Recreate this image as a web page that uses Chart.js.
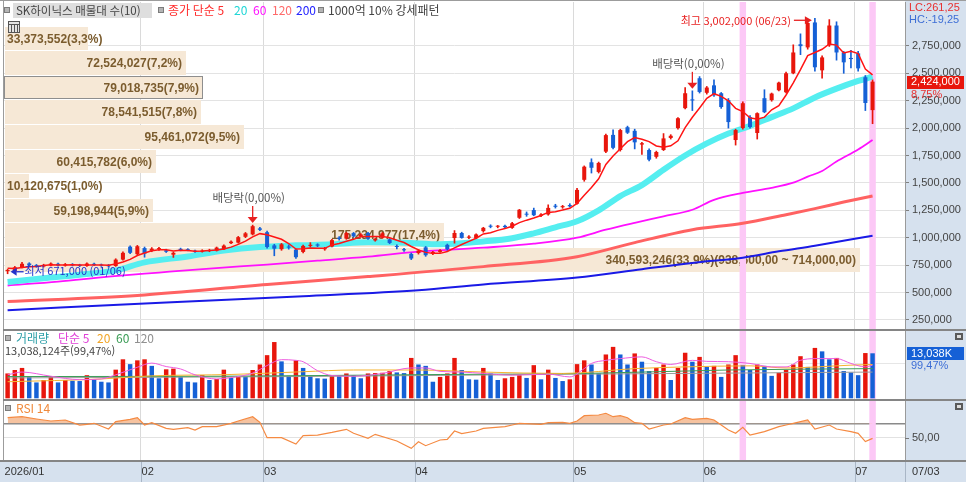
<!DOCTYPE html>
<html lang="ko">
<head>
<meta charset="utf-8">
<title>SK하이닉스 일봉</title>
<script src="https://cdn.jsdelivr.net/npm/chart.js@4.4.1/dist/chart.umd.min.js"></script>
<style>
  html, body { margin: 0; padding: 0; background: #fff; overflow: hidden; }
  #chart { display: block; }
</style>
</head>
<body>
<canvas id="chart" width="966" height="482"></canvas>
<script>
// ---- values (prices in 천원, volume in 천주) ----
const dates = [
  '01/06','01/07','01/08','01/09','01/12','01/13','01/14','01/15','01/16','01/19','01/20','01/21','01/22','01/23','01/26','01/27','01/28','01/29','01/30',
  '02/02','02/03','02/04','02/05','02/06','02/09','02/10','02/11','02/12','02/13','02/19','02/20','02/23','02/24','02/25','02/26','02/27',
  '03/03','03/04','03/05','03/06','03/09','03/10','03/11','03/12','03/13','03/16','03/17','03/18','03/19','03/20','03/23','03/24','03/25','03/26','03/27','03/30','03/31',
  '04/01','04/02','04/03','04/06','04/07','04/08','04/09','04/10','04/13','04/14','04/15','04/16','04/17','04/20','04/21','04/22','04/23','04/24','04/27','04/28','04/29','04/30',
  '05/04','05/06','05/07','05/08','05/11','05/12','05/13','05/14','05/15','05/18','05/19','05/20','05/21','05/22','05/26','05/27','05/28','05/29',
  '06/01','06/02','06/04','06/05','06/08','06/09','06/10','06/11','06/12','06/15','06/16','06/17','06/18','06/19','06/22','06/23','06/24','06/25','06/26','06/29','06/30',
  '07/01','07/02','07/03'
];

const openK = [
  695,690,732,765,750,738,748,762,745,758,
  752,742,762,755,750,742,800,918,850,905,
  880,895,885,845,898,892,878,872,878,882,
  895,950,955,1008,1030,1085,1050,930,895,918,
  892,870,925,938,895,920,1000,992,1042,1012,
  1042,975,1000,985,922,895,852,860,912,852,
  870,935,997,1043,1000,995,1060,1106,1100,1108,
  1090,1182,1218,1252,1200,1212,1292,1278,1298,1310,
  1528,1688,1600,1785,1938,1800,2008,1975,1850,1800,
  1738,1800,1910,2000,2182,2262,2455,2322,2390,2318,
  2255,1891,2000,2100,1955,2273,2255,2345,2327,2500,
  2765,2736,2964,2527,2755,2936,2691,2640,2682,2464,
  2164
];
const highK = [
  712,738,775,772,756,758,770,768,765,764,
  758,770,768,760,756,808,872,925,930,915,
  910,912,895,870,905,900,888,890,895,915,
  935,972,1012,1048,1115,1095,1060,940,948,935,
  898,932,955,945,912,985,1010,1050,1048,1038,
  1048,995,1048,992,935,902,860,892,920,875,
  892,942,1065,1050,1020,1035,1095,1118,1112,1115,
  1140,1258,1235,1270,1220,1300,1305,1295,1310,1450,
  1655,1720,1690,1945,1985,1990,2018,1990,1870,1810,
  1790,1950,1940,2095,2370,2340,2470,2380,2440,2325,
  2270,1990,2240,2115,2140,2350,2320,2420,2510,2760,
  2860,2990,3002,2660,2990,2970,2700,2710,2700,2480,
  2440
];
const lowK = [
  671,680,725,738,730,732,742,740,740,742,
  736,738,745,738,732,738,795,855,845,822,
  872,885,865,820,880,880,865,868,872,878,
  890,945,950,1000,1025,1065,905,835,885,895,
  812,862,915,918,885,915,978,985,1005,1005,
  985,968,995,945,898,875,800,850,830,845,
  865,885,950,995,992,990,1050,1090,1090,1090,
  1085,1175,1195,1200,1192,1205,1270,1268,1280,1305,
  1515,1590,1590,1775,1810,1790,1950,1810,1760,1700,
  1725,1795,1900,1990,2175,2160,2320,2310,2290,2180,
  2000,1845,1990,2000,1900,2140,2245,2340,2320,2495,
  2670,2720,2520,2455,2745,2620,2500,2550,2520,2160,
  2040
];
const closeK = [
  705,730,762,748,738,752,764,746,758,748,
  742,764,750,745,740,800,862,862,922,855,
  900,905,872,862,888,886,872,882,888,910,
  928,964,1005,1040,1105,1072,915,900,940,910,
  822,925,935,928,905,978,988,1042,1012,1030,
  990,988,1040,952,915,885,810,882,840,870,
  885,895,1043,998,1010,1030,1090,1100,1106,1096,
  1132,1255,1210,1205,1212,1272,1282,1288,1286,1436,
  1648,1638,1682,1936,1820,1982,1958,1870,1862,1712,
  1782,1906,1930,2090,2318,2252,2330,2370,2300,2192,
  2055,1982,2227,2010,2136,2145,2315,2415,2500,2690,
  2748,2959,2555,2645,2936,2690,2600,2630,2545,2229,
  2424
];

// 종가 단순 이동평균 (red 5 every bar; others read at sample bars)
const ma5K = [
  722,720,728,735,737,746,753,750,752,754,
  752,752,752,750,748,760,779,802,837,860,
  880,889,891,879,885,883,876,878,883,888,
  896,914,939,969,1008,1037,1027,1006,986,947,
  897,899,906,904,903,934,947,968,985,1010,
  1012,1012,1012,1000,977,956,920,889,866,857,
  857,874,907,938,966,995,1034,1046,1067,1084,
  1105,1138,1160,1180,1203,1231,1236,1252,1268,1313,
  1388,1459,1538,1668,1745,1812,1876,1913,1898,1877,
  1837,1826,1838,1884,2005,2099,2184,2272,2314,2289,
  2249,2180,2151,2093,2082,2100,2167,2204,2302,2413,
  2534,2662,2690,2719,2768,2757,2685,2700,2680,2539,
  2486
];
const ma20K = [[0,595],[5,630],[10,662],[15,702],[19,775],[25,828],[30,882],[35,915],[40,930],[45,940],[50,958],[55,955],[60,940],[66,966],[70,995],[73,1040],[76,1095],[79,1150],[82,1250],[85,1380],[88,1480],[91,1620],[94,1750],[97,1860],[100,1950],[103,2020],[106,2100],[109,2180],[112,2280],[115,2360],[118,2430],[120,2470]];
const ma60K = [[0,564],[7,600],[14,645],[21,682],[28,718],[36,755],[43,790],[50,827],[57,873],[66,909],[73,945],[79,1000],[83,1073],[87,1136],[91,1195],[95,1255],[98,1345],[102,1409],[106,1455],[109,1502],[111,1557],[113,1609],[115,1695],[118,1805],[120,1891]];
const ma120K = [[0,418],[18,473],[36,573],[50,645],[66,736],[79,827],[87,955],[95,1073],[102,1131],[108,1210],[112,1265],[116,1325],[120,1381]];
const ma200K = [[0,339],[22,409],[41,466],[57,520],[66,573],[79,636],[88,712],[95,770],[102,818],[107,876],[112,927],[120,1018]];

const volK = [
  7200,8200,8800,6200,4600,5300,6200,4600,5300,5100,
  5000,6700,5500,4800,4600,8300,11300,9900,11000,11300,
  9400,5800,8400,8600,6200,4800,4600,6700,5300,5600,
  8300,5900,6400,6200,8200,9800,12500,16300,10700,6500,
  11000,8800,6500,5800,5700,6700,6500,7200,6700,5800,
  7200,7300,7400,7900,7500,7300,11700,9800,9400,4800,
  6200,7200,11700,8200,5500,5400,8800,7200,5300,5800,
  6200,6700,5900,9600,5500,8300,5900,5000,5500,9900,
  11000,9800,7200,12700,14900,12700,9800,13000,10600,7900,
  8800,9800,5300,8800,13200,10600,12000,9100,9400,6200,
  9800,12500,9600,8200,9800,9400,6500,7400,8200,9800,
  12200,9100,14600,13600,11300,11700,7900,7500,6700,13108,
  13038
];
const volMa5 = [[0,6800],[2,7600],[6,6400],[10,5400],[13,5600],[15,6800],[18,9000],[20,10200],[22,9200],[24,8500],[26,6800],[29,5600],[31,6000],[34,7300],[36,9500],[38,11200],[40,11000],[41,10600],[43,8000],[45,6600],[48,6400],[52,7200],[56,8800],[58,8800],[60,7800],[63,7600],[66,7200],[70,6700],[75,7000],[78,6200],[80,8600],[81,10100],[83,11000],[85,11500],[88,12000],[90,10600],[92,9800],[95,11000],[97,10700],[100,10600],[103,10100],[106,9100],[108,9100],[110,11000],[112,11500],[115,11500],[117,10100],[119,9100],[120,9600]];
const volMa20 = [[0,4800],[13,5600],[20,6500],[31,6900],[41,7700],[48,8200],[57,8200],[66,7600],[77,7200],[87,8600],[94,9100],[103,9400],[108,8800],[117,9600],[120,9800]];
const volMa60 = [[0,6300],[30,6400],[60,6900],[80,7200],[100,8200],[120,8600]];
const volMa120 = [[0,5900],[40,6300],[80,7000],[120,7600]];

const rsi14 = [[0,77.8],[2,79.2],[4,76.0],[6,73.2],[8,74.6],[10,67.6],[11,68.5],[12,70.0],[14,62.1],[15,72.3],[17,75.5],[18,77.8],[19,67.6],[20,70.9],[22,63.0],[23,61.6],[25,63.9],[26,60.7],[27,65.3],[29,65.3],[31,70.0],[32,73.2],[34,79.2],[35,71.4],[36,50.0],[38,50.0],[40,41.2],[41,52.8],[43,53.7],[45,57.4],[47,61.6],[48,56.1],[50,49.1],[51,54.7],[54,45.4],[56,35.2],[57,44.4],[58,38.9],[60,46.8],[61,47.7],[62,59.3],[63,55.6],[65,59.3],[66,63.0],[69,65.3],[70,67.6],[71,70.0],[74,68.6],[75,70.9],[77,71.4],[78,70.0],[79,73.2],[80,80.6],[82,81.5],[83,83.9],[84,79.2],[85,80.6],[86,77.8],[87,70.9],[88,70.0],[89,62.1],[91,67.6],[92,69.0],[94,77.8],[95,75.5],[97,76.9],[98,74.6],[99,67.6],[100,60.7],[101,56.1],[102,64.4],[103,53.7],[105,58.4],[107,65.3],[108,67.6],[109,70.0],[111,74.6],[112,62.0],[114,67.6],[115,62.1],[117,58.4],[118,56.1],[119,44.6],[120,49.1]];

// 매물대 (10 bins, bottom to top)
const profLowK = 690;
const profStepK = 224.5;
const profVol = [340593246, 175234977, 59198944, 10120675, 60415782, 95461072, 78541515, 79018735, 72524027, 33373552];
const profRangeText = '(938,500,00 ~ 714,000,00)';

const priceTicksK = [250, 500, 750, 1000, 1250, 1500, 1750, 2000, 2250, 2500, 2750];
const monthLabels = ['2026/01', '02', '03', '04', '05', '06', '07'];
const exDivIdx = [34, 95];
const highlightIdx = [102, 120];
const volLastText = '13,038,124주(99,47%)';

// ---- look ----
const RED = '#e8160c', BLUE = '#1560d6';
const AXIS_BG = '#d6e1ee';
const KR = '"Noto Sans CJK KR", sans-serif';
const NUM = '"Liberation Sans", sans-serif';
const PANEL_Y = [329, 399];

Chart.defaults.font.family = NUM;

const labels = dates.concat(['', '', '', '']); // empty slots at right edge
const monthStart = dates.map((d, i) => (i === 0 || d.slice(0, 2) !== dates[i - 1].slice(0, 2)) ? i : -1).filter(i => i >= 0);
const candleColor = closeK.map((c, i) => c >= openK[i] ? RED : BLUE);
const volColor = volK.map((v, i) => (i === 0 || v >= volK[i - 1]) ? RED : BLUE);
const pts = arr => arr.map(p => ({ x: dates[p[0]], y: p[1] }));
const fmt = v => Math.round(v).toLocaleString('en-US');

function line(data, color, width, yAxisID, order, smooth) {
  return {
    type: 'line', data, borderColor: color, borderWidth: width, pointRadius: 0,
    xAxisID: 'x', yAxisID, order, fill: false,
    cubicInterpolationMode: smooth ? 'monotone' : 'default', tension: 0
  };
}

// keep the plot area flush with the canvas edges
function noPad(s) { s.paddingTop = 0; s.paddingBottom = 0; s.paddingLeft = 0; s.paddingRight = 0; }

function txt(ctx, s, x, y, color, font, align) {
  ctx.font = font;
  ctx.fillStyle = color;
  ctx.textAlign = align || 'left';
  ctx.textBaseline = 'middle';
  ctx.fillText(s, x, y);
}

function bullet(ctx, x, y) {
  ctx.fillStyle = '#b4b4b4';
  ctx.fillRect(x, y - 3, 6, 6);
  ctx.strokeStyle = '#7c7c7c';
  ctx.lineWidth = 1;
  ctx.strokeRect(x + 0.5, y - 2.5, 5, 5);
}

function arrowDown(ctx, x, yTop, yTip, color) {
  ctx.strokeStyle = color;
  ctx.lineWidth = 1.3;
  ctx.beginPath(); ctx.moveTo(x, yTop); ctx.lineTo(x, yTip - 5); ctx.stroke();
  ctx.fillStyle = color;
  ctx.beginPath(); ctx.moveTo(x - 5, yTip - 6); ctx.lineTo(x + 5, yTip - 6); ctx.lineTo(x, yTip); ctx.closePath(); ctx.fill();
}

const chrome = {
  id: 'chrome',
  beforeDraw(chart) {
    const { ctx, chartArea: a, width, height } = chart;
    ctx.save();
    ctx.fillStyle = '#ffffff';
    ctx.fillRect(0, 0, width, height);
    ctx.fillStyle = AXIS_BG;
    ctx.fillRect(a.right, 0, width - a.right, a.bottom);
    ctx.fillRect(0, a.bottom, width, height - a.bottom);
    ctx.restore();
  },
  beforeDatasetsDraw(chart) {
    const { ctx, chartArea: a } = chart;
    const xs = chart.scales.x, ys = chart.scales.y, xp = chart.scales.xp;
    ctx.save();
    // 매물대 bars
    const total = profVol.reduce((s, v) => s + v, 0);
    const maxK = profVol.indexOf(Math.max(...profVol));
    const curBin = Math.floor((closeK[closeK.length - 1] - profLowK) / profStepK);
    profVol.forEach((v, k) => {
      const lo = profLowK + k * profStepK, hi = lo + profStepK;
      const top = Math.round(ys.getPixelForValue(hi)) + 1;
      const bot = Math.round(ys.getPixelForValue(lo));
      const x0 = Math.round(xp.getPixelForValue(0)) + 1;
      const x1 = Math.round(xp.getPixelForValue(v));
      ctx.fillStyle = '#f6e8d6';
      ctx.fillRect(x0, top, x1 - x0, bot - top);
      if (k === curBin) {
        ctx.strokeStyle = '#8e8e8e';
        ctx.lineWidth = 1;
        ctx.strokeRect(x0 - 0.5, top + 0.5, x1 - x0, bot - top - 1);
      }
      let s = v.toLocaleString('en-US') + '(' + (v / total * 100).toFixed(1).replace('.', ',') + '%)';
      if (k === maxK) s += profRangeText;
      ctx.font = 'bold 12px ' + NUM;
      const w = ctx.measureText(s).width;
      let tx = x1 - 4 - w;
      if (tx < x0 + 2) tx = x0 + 2;
      txt(ctx, s, tx, (top + bot) / 2 + 1, '#7b5c2e', 'bold 12px ' + NUM);
    });
    // highlighted days
    const slot = xs.getPixelForValue(1) - xs.getPixelForValue(0);
    ctx.fillStyle = '#fcc8f6';
    highlightIdx.forEach(i => {
      const cx = xs.getPixelForValue(i);
      ctx.fillRect(cx - slot * 0.45, a.top, slot * 0.9, a.bottom - a.top);
    });
    ctx.restore();
  },
  afterDatasetsDraw(chart) {
    const { ctx } = chart;
    const xs = chart.scales.x, ys = chart.scales.y;
    ctx.save();
    // 배당락
    exDivIdx.forEach(i => {
      const x = xs.getPixelForValue(i);
      const tip = ys.getPixelForValue(highK[i]) - 2;
      arrowDown(ctx, x, tip - 17, tip, '#e82020');
      txt(ctx, '배당락(0,00%)', x - 4, tip - 25, '#555555', '11.5px ' + KR, 'center');
    });
    // 최고
    const hi = highK.indexOf(Math.max(...highK));
    const hx = xs.getPixelForValue(hi), hy = ys.getPixelForValue(highK[hi]) + 2;
    ctx.strokeStyle = '#e82020'; ctx.lineWidth = 1.3;
    ctx.beginPath(); ctx.moveTo(hx - 21, hy); ctx.lineTo(hx - 9, hy); ctx.stroke();
    ctx.fillStyle = '#e82020';
    ctx.beginPath(); ctx.moveTo(hx - 10, hy - 4); ctx.lineTo(hx - 10, hy + 4); ctx.lineTo(hx - 3, hy); ctx.closePath(); ctx.fill();
    txt(ctx, '최고 ' + fmt(highK[hi] * 1000) + ' (' + dates[hi] + ')', hx - 24, hy + 1, '#e82020', '11px ' + KR, 'right');
    // 최저
    const lo = lowK.indexOf(Math.min(...lowK));
    const lx = xs.getPixelForValue(lo) + 3, ly = ys.getPixelForValue(lowK[lo]) - 2;
    ctx.fillStyle = '#2233cc';
    ctx.beginPath(); ctx.moveTo(lx, ly); ctx.lineTo(lx + 6, ly - 4); ctx.lineTo(lx + 6, ly + 4); ctx.closePath(); ctx.fill();
    ctx.strokeStyle = '#2233cc'; ctx.lineWidth = 1.3;
    ctx.beginPath(); ctx.moveTo(lx + 6, ly); ctx.lineTo(lx + 13, ly); ctx.stroke();
    txt(ctx, '최저 ' + fmt(lowK[lo] * 1000) + ' (' + dates[lo] + ')', lx + 14, ly - 1, '#2233cc', '11px ' + KR);
    ctx.restore();
  },
  afterDraw(chart) {
    const { ctx, chartArea: a, width, height } = chart;
    const xs = chart.scales.x, ys = chart.scales.y, yv = chart.scales.yv, yr = chart.scales.yr;
    ctx.save();
    // frame and panel dividers
    ctx.fillStyle = '#9c9c9c';
    ctx.fillRect(0, 0, width, 1);
    ctx.fillRect(a.left - 1, 0, 1, a.bottom);
    ctx.fillStyle = '#858585';
    PANEL_Y.forEach(y => ctx.fillRect(a.left - 1, y, width - a.left + 1, 2));
    ctx.fillRect(0, a.bottom, width, 2);
    // date strip dividers
    const slot = xs.getPixelForValue(1) - xs.getPixelForValue(0);
    ctx.fillStyle = '#a9b6c6';
    monthStart.slice(1).forEach(i => ctx.fillRect(Math.round(xs.getPixelForValue(i) - slot / 2), a.bottom + 2, 1, height - a.bottom));
    ctx.fillRect(a.right, a.bottom + 2, 1, height - a.bottom);

    // top legend
    bullet(ctx, 4, 10);
    ctx.fillStyle = '#dedede';
    ctx.fillRect(13, 3, 139, 15);
    txt(ctx, 'SK하이닉스 매물대 수(10)', 16, 10.5, '#444444', '11.5px ' + KR);
    bullet(ctx, 158, 10);
    txt(ctx, '종가 단순 5', 168, 10.5, '#ff2a2a', '12px ' + KR);
    txt(ctx, '20', 234, 10.5, '#1fd6d6', '12px ' + KR);
    txt(ctx, '60', 253, 10.5, '#ff10ff', '12px ' + KR);
    txt(ctx, '120', 272, 10.5, '#ff6a6a', '12px ' + KR);
    txt(ctx, '200', 296, 10.5, '#2323ff', '12px ' + KR);
    bullet(ctx, 318, 10);
    txt(ctx, '1000억 10% 강세패턴', 328, 10.5, '#444444', '12px ' + KR);
    // table icon
    ctx.fillStyle = '#e4e4e4'; ctx.fillRect(8, 21, 12, 12);
    ctx.strokeStyle = '#555555'; ctx.lineWidth = 1; ctx.strokeRect(8.5, 21.5, 11, 11);
    ctx.beginPath();
    ctx.moveTo(9, 24.5); ctx.lineTo(19, 24.5);
    ctx.moveTo(11.5, 25); ctx.lineTo(11.5, 32); ctx.moveTo(14.5, 25); ctx.lineTo(14.5, 32); ctx.moveTo(17.5, 25); ctx.lineTo(17.5, 32);
    ctx.stroke();

    // volume legend
    bullet(ctx, 5, 338);
    txt(ctx, '거래량', 16, 338.5, '#2d9fa8', '12px ' + KR);
    txt(ctx, '단순 5', 58, 338.5, '#e040d8', '12px ' + KR);
    txt(ctx, '20', 97, 338.5, '#f2a526', '12px ' + KR);
    txt(ctx, '60', 116, 338.5, '#3a9c55', '12px ' + KR);
    txt(ctx, '120', 134, 338.5, '#8f8f8f', '12px ' + KR);
    txt(ctx, volLastText, 5, 350.5, '#444444', '11px ' + KR);
    // rsi legend
    bullet(ctx, 5, 408);
    txt(ctx, 'RSI 14', 16, 408.5, '#f08a3c', '12px ' + KR);

    // right axis extras
    const ax = a.right + 4;
    txt(ctx, 'LC:261,25', ax, 8, '#e83030', '11px ' + NUM);
    txt(ctx, 'HC:-19,25', ax, 19.5, '#3d6ed6', '11px ' + NUM);
    const last = closeK.length - 1;
    const cy = ys.getPixelForValue(closeK[last]);
    ctx.fillStyle = RED;
    ctx.fillRect(a.right + 2, Math.round(cy) - 6, 57, 13);
    txt(ctx, fmt(closeK[last] * 1000), ax + 2, cy + 0.5, '#ffffff', '11px ' + NUM);
    const chg = ((closeK[last] / closeK[last - 1] - 1) * 100).toFixed(2).replace('.', ',') + '%';
    txt(ctx, chg, ax + 2, cy + 13, '#e83030', '11px ' + NUM);
    const vy = yv.getPixelForValue(volK[last]);
    ctx.fillStyle = BLUE;
    ctx.fillRect(a.right + 2, Math.round(vy) - 6, 57, 13);
    txt(ctx, fmt(volK[last]) + 'K', ax + 2, vy + 0.5, '#ffffff', '11px ' + NUM);
    txt(ctx, (volK[last] / volK[last - 1] * 100).toFixed(2).replace('.', ',') + '%', ax + 2, vy + 13, '#3d6ed6', '11px ' + NUM);
    const ry = yr.getPixelForValue(50);
    ctx.fillStyle = '#777777';
    ctx.fillRect(a.right, Math.round(ry), 4, 1);
    txt(ctx, '50,00', ax + 3, ry, '#444444', '11px ' + NUM);
    txt(ctx, dates[last], ax + 3, 471.5, '#333333', '11px ' + NUM);
    // panel icons
    [333, 403].forEach(y => {
      ctx.fillStyle = '#5a5a5a'; ctx.fillRect(955, y, 8, 7);
      ctx.fillStyle = '#dddddd'; ctx.fillRect(957, y + 2, 4, 3);
    });
    ctx.restore();
  }
};

new Chart(document.getElementById('chart'), {
  type: 'bar',
  data: {
    labels,
    datasets: [
      // candles: wick + body as floating bars
      { type: 'bar', data: lowK.map((l, i) => [l, highK[i]]), backgroundColor: candleColor, barThickness: 1, grouped: false, xAxisID: 'x', yAxisID: 'y', order: 3 },
      { type: 'bar', data: openK.map((o, i) => [o, closeK[i]]), backgroundColor: candleColor, barPercentage: 0.56, categoryPercentage: 1, minBarLength: 1, grouped: false, xAxisID: 'x', yAxisID: 'y', order: 2 },
      line(ma5K, '#ff1414', 1.5, 'y', 1, false),
      line(pts(ma20K), '#55eef0', 6, 'y', 5, true),
      line(pts(ma60K), '#ff10ff', 1.8, 'y', 6, true),
      line(pts(ma120K), '#ff6262', 3, 'y', 7, true),
      line(pts(ma200K), '#1a1ae6', 2, 'y', 8, true),
      // volume
      { type: 'bar', data: volK, backgroundColor: volColor, barPercentage: 0.62, categoryPercentage: 1, grouped: false, xAxisID: 'x', yAxisID: 'yv', order: 4 },
      line(pts(volMa5), '#ee5ee0', 1, 'yv', 1, true),
      line(pts(volMa20), '#f5b330', 1, 'yv', 1, true),
      line(pts(volMa60), '#3c9e58', 1, 'yv', 1, true),
      line(pts(volMa120), '#9a9a9a', 1, 'yv', 1, true),
      // RSI
      Object.assign(line(pts(rsi14), '#f58a42', 1.2, 'yr', 1, false), {
        fill: { target: { value: 70 }, above: '#f6c3a0', below: 'rgba(0,0,0,0)' }
      })
    ]
  },
  options: {
    responsive: false,
    animation: false,
    events: [],
    layout: { padding: { left: 4, top: 2, right: 0, bottom: 0 } },
    plugins: { legend: { display: false }, tooltip: { enabled: false } },
    scales: {
      x: {
        type: 'category',
        offset: true,
        grid: {
          offset: true,
          drawTicks: false,
          color: c => (c.index > 0 && monthStart.includes(c.index)) ? '#dadada' : 'rgba(0,0,0,0)'
        },
        border: { display: false },
        ticks: {
          autoSkip: false, maxRotation: 0, minRotation: 0, padding: 5,
          align: 'start', labelOffset: -3, color: '#333333', font: { size: 11 },
          callback: (v, i) => { const m = monthStart.indexOf(i); return m >= 0 ? monthLabels[m] : ''; }
        },
        afterFit: s => { s.height = 22; noPad(s); }
      },
      xp: {
        type: 'linear', position: 'top', offset: false, min: 0, max: 358500000,
        grid: { display: false, offset: false }, border: { display: false }, ticks: { display: false },
        afterFit: s => { s.height = 0; noPad(s); }
      },
      y: {
        position: 'right',
        min: -1028.3, max: 3150.5,
        afterBuildTicks: s => { s.ticks = priceTicksK.map(v => ({ value: v })); },
        grid: { color: '#e3e3e3', tickLength: 4, tickColor: '#808080' },
        border: { color: '#9a9a9a' },
        ticks: { padding: 3, color: '#444444', font: { size: 11 }, callback: v => fmt(v * 1000) },
        afterFit: s => { s.width = 61; noPad(s); }
      },
      yv: {
        position: 'right',
        min: -17876, max: 114820,
        afterBuildTicks: s => { s.ticks = [{ value: 10000 }]; },
        grid: { color: '#e6e6e6', drawTicks: false },
        border: { display: false },
        ticks: { display: false },
        afterFit: s => { s.width = 0; noPad(s); }
      },
      yr: {
        position: 'right',
        min: 19.03, max: 655.1,
        afterBuildTicks: s => { s.ticks = [{ value: 50 }, { value: 70 }]; },
        grid: {
          drawTicks: false,
          color: c => c.tick && c.tick.value === 70 ? '#8a8a8a' : '#e2e2e2',
          lineWidth: c => c.tick && c.tick.value === 70 ? 1.5 : 1
        },
        border: { display: false },
        ticks: { display: false },
        afterFit: s => { s.width = 0; noPad(s); }
      }
    }
  },
  plugins: [chrome]
});
</script>
</body>
</html>
